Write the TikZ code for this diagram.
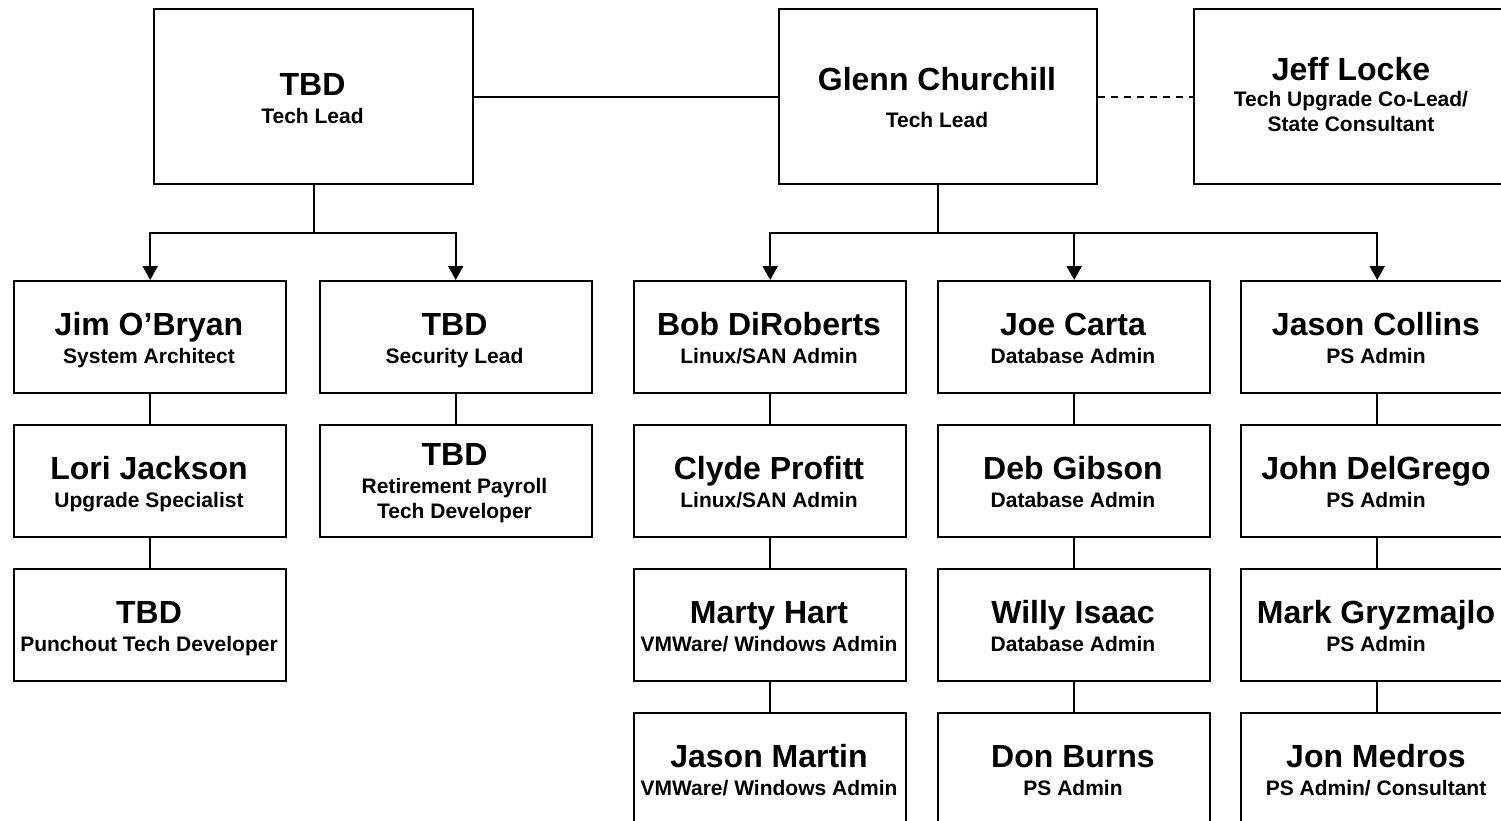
\documentclass[tikz,border=0pt]{standalone}
\usepackage{fontspec}
\setmainfont{Liberation Sans}
\usetikzlibrary{arrows.meta}

\tikzset{
  box/.style={draw=black, line width=2.4pt, rectangle, inner sep=0pt,
              anchor=north west, minimum height=112pt, minimum width=272pt},
  topbox/.style={box, minimum height=175pt},
  nm/.style={font=\bfseries\fontsize{32}{36}\selectfont, anchor=base, inner sep=0pt},
  sub/.style={font=\bfseries\fontsize{21}{25}\selectfont, anchor=base, inner sep=0pt},
  conn/.style={line width=2pt, draw=black},
  link/.style={line width=1.6pt, draw=black},
  dotconn/.style={line width=2pt, draw=black, dash pattern=on 7pt off 6pt},
  arrowconn/.style={conn, -{Triangle[length=14pt,width=15pt]}},
}

\begin{document}
\begin{tikzpicture}[x=1pt, y=-1pt]
\useasboundingbox (0,0) rectangle (1501,820);
\fill[white] (0,0) rectangle (1501,820);
\clip (0,0) rectangle (1501,820);

% ---- leads ----
\node[topbox, minimum width=319pt] (tl) at (153,8) {};
\node[nm]  at (312.5,95)  {TBD};
\node[sub] at (312.5,123) {Tech Lead};

\node[topbox, minimum width=318pt] (gc) at (778,8) {};
\node[nm]  at (937,90)  {Glenn Churchill};
\node[sub] at (937,127) {Tech Lead};

\node[topbox, minimum width=320pt] (jl) at (1193,8) {};
\node[nm]  at (1351,80)  {Jeff Locke};
\node[sub] at (1351,106) {Tech Upgrade Co-Lead/};
\node[sub] at (1351,131) {State Consultant};

% ---- left branch ----
\node[box] (jim) at (13,280) {};
\node[nm]  at (149,335) {Jim O’Bryan};
\node[sub] at (149,363) {System Architect};

\node[box] (lori) at (13,424) {};
\node[nm]  at (149,479) {Lori Jackson};
\node[sub] at (149,507) {Upgrade Specialist};

\node[box] (punch) at (13,568) {};
\node[nm]  at (149,623) {TBD};
\node[sub] at (149,651) {Punchout Tech Developer};

\node[box] (sec) at (318.5,280) {};
\node[nm]  at (454.5,335) {TBD};
\node[sub] at (454.5,363) {Security Lead};

\node[box] (ret) at (318.5,424) {};
\node[nm]  at (454.5,465) {TBD};
\node[sub] at (454.5,493) {Retirement Payroll};
\node[sub] at (454.5,518) {Tech Developer};

% ---- right branch: infrastructure ----
\node[box] (bob) at (633,280) {};
\node[nm]  at (769,335) {Bob DiRoberts};
\node[sub] at (769,363) {Linux/SAN Admin};

\node[box] (clyde) at (633,424) {};
\node[nm]  at (769,479) {Clyde Profitt};
\node[sub] at (769,507) {Linux/SAN Admin};

\node[box] (marty) at (633,568) {};
\node[nm]  at (769,623) {Marty Hart};
\node[sub] at (769,651) {VMWare/ Windows Admin};

\node[box] (jmartin) at (633,712) {};
\node[nm]  at (769,767) {Jason Martin};
\node[sub] at (769,795) {VMWare/ Windows Admin};

% ---- right branch: database ----
\node[box] (joe) at (937,280) {};
\node[nm]  at (1073,335) {Joe Carta};
\node[sub] at (1073,363) {Database Admin};

\node[box] (deb) at (937,424) {};
\node[nm]  at (1073,479) {Deb Gibson};
\node[sub] at (1073,507) {Database Admin};

\node[box] (willy) at (937,568) {};
\node[nm]  at (1073,623) {Willy Isaac};
\node[sub] at (1073,651) {Database Admin};

\node[box] (don) at (937,712) {};
\node[nm]  at (1073,767) {Don Burns};
\node[sub] at (1073,795) {PS Admin};

% ---- right branch: PeopleSoft ----
\node[box] (jcol) at (1240,280) {};
\node[nm]  at (1376,335) {Jason Collins};
\node[sub] at (1376,363) {PS Admin};

\node[box] (john) at (1240,424) {};
\node[nm]  at (1376,479) {John DelGrego};
\node[sub] at (1376,507) {PS Admin};

\node[box] (mark) at (1240,568) {};
\node[nm]  at (1376,623) {Mark Gryzmajlo};
\node[sub] at (1376,651) {PS Admin};

\node[box] (jmed) at (1240,712) {};
\node[nm]  at (1376,767) {Jon Medros};
\node[sub] at (1376,795) {PS Admin/ Consultant};

% ---- connectors ----
\draw[conn] (tl.east) -- (gc.west);
\draw[dotconn] (gc.east) -- (jl.west);

\draw[conn] (tl.south) -- ++(0,48) coordinate (tlbus);
\draw[arrowconn] (tlbus) -| (jim.north);
\draw[arrowconn] (tlbus) -| (sec.north);

\draw[conn] (gc.south) -- ++(0,48) coordinate (gcbus);
\draw[arrowconn] (gcbus) -| (bob.north);
\draw[arrowconn] (gcbus) -| (joe.north);
\draw[arrowconn] (gcbus) -| (jcol.north);

\draw[link] (jim.south) -- (lori.north);
\draw[link] (lori.south) -- (punch.north);
\draw[link] (sec.south) -- (ret.north);
\draw[link] (bob.south) -- (clyde.north);
\draw[link] (clyde.south) -- (marty.north);
\draw[link] (marty.south) -- (jmartin.north);
\draw[link] (joe.south) -- (deb.north);
\draw[link] (deb.south) -- (willy.north);
\draw[link] (willy.south) -- (don.north);
\draw[link] (jcol.south) -- (john.north);
\draw[link] (john.south) -- (mark.north);
\draw[link] (mark.south) -- (jmed.north);
\end{tikzpicture}
\end{document}
